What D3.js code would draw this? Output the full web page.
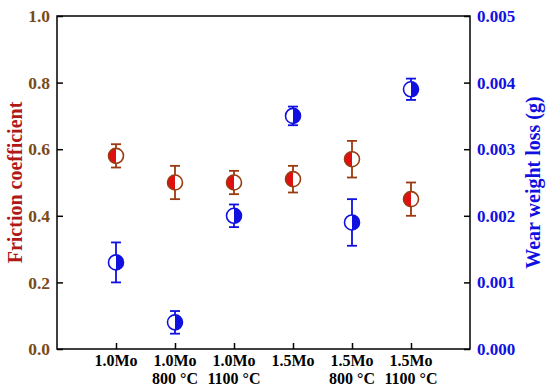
<!DOCTYPE html>
<html>
<head>
<meta charset="utf-8">
<script src="https://cdn.jsdelivr.net/npm/d3@7"></script>
<style>
  body { margin: 0; background: #fff; }
  text { font-family: "Liberation Serif", "Times New Roman", serif; font-weight: bold; }
</style>
</head>
<body>
<div id="chart"></div>
<script>
// sample names, two lines each
const samples = [["1.0Mo", ""], ["1.0Mo", "800 °C"], ["1.0Mo", "1100 °C"],
                 ["1.5Mo", ""], ["1.5Mo", "800 °C"], ["1.5Mo", "1100 °C"]];
const friction = [0.58, 0.50, 0.50, 0.51, 0.57, 0.45];
const frictionErr = [0.035, 0.05, 0.035, 0.04, 0.055, 0.05];
const wear = [0.0013, 0.0004, 0.0020, 0.0035, 0.0019, 0.0039];
const wearErr = [0.0003, 0.00017, 0.00017, 0.00014, 0.00035, 0.00016];
const leftTicks = [0.0, 0.2, 0.4, 0.6, 0.8, 1.0];
const rightTicks = [0, 0.001, 0.002, 0.003, 0.004, 0.005];

const width = 550, height = 391;
const margin = {top: 16, right: 80, bottom: 42, left: 57};

const svg = d3.select("#chart").append("svg")
    .attr("width", width)
    .attr("height", height);

const x = d3.scaleLinear().domain([0, samples.length + 1])
    .range([margin.left, width - margin.right]);
const yL = d3.scaleLinear().domain([0, 1]).range([height - margin.bottom, margin.top]);
const yR = d3.scaleLinear().domain([0, 0.005]).range([height - margin.bottom, margin.top]);

const red = "#e01010", brown = "#9a3a10", tickBrown = "#7a4a18", blue = "#1010e0";
const r = 7.5;

// frame
svg.append("rect")
    .attr("x", margin.left).attr("y", margin.top)
    .attr("width", width - margin.right - margin.left)
    .attr("height", height - margin.bottom - margin.top)
    .attr("fill", "none").attr("stroke", "#000").attr("stroke-width", 1.5);

// left axis (ticks inward)
const gl = svg.append("g").attr("transform", `translate(${margin.left},0)`)
    .call(d3.axisRight(yL).tickValues(leftTicks).tickSize(6).tickFormat(d3.format(".1f")));
gl.select(".domain").remove();
gl.selectAll("line").attr("stroke", "#000").attr("stroke-width", 1.5);
gl.selectAll("text").attr("x", -7).attr("text-anchor", "end")
    .attr("fill", tickBrown).attr("font-size", 17.5);

// right axis
const gr = svg.append("g").attr("transform", `translate(${width - margin.right},0)`)
    .call(d3.axisLeft(yR).tickValues(rightTicks).tickSize(6).tickFormat(d3.format(".3f")));
gr.select(".domain").remove();
gr.selectAll("line").attr("stroke", "#000").attr("stroke-width", 1.5);
gr.selectAll("text").attr("x", 7).attr("text-anchor", "start")
    .attr("fill", blue).attr("font-size", 17);

// bottom axis
const gb = svg.append("g").attr("transform", `translate(0,${height - margin.bottom})`)
    .call(d3.axisTop(x).tickValues(d3.range(1, samples.length + 1)).tickSize(6).tickFormat(""));
gb.select(".domain").remove();
gb.selectAll("line").attr("stroke", "#000").attr("stroke-width", 1.5);

const lbl = svg.append("g").selectAll("text").data(samples).join("text")
    .attr("x", (d, i) => x(i + 1))
    .attr("y", height - margin.bottom + 17)
    .attr("text-anchor", "middle")
    .attr("font-size", 16)
    .attr("fill", "#000");
lbl.append("tspan").attr("x", (d, i) => x(i + 1)).text(d => d[0]);
lbl.append("tspan").attr("x", (d, i) => x(i + 1)).attr("dy", 18).text(d => d[1]);

// axis titles
svg.append("text")
    .attr("transform", `translate(22,${(yL(0) + yL(1)) / 2}) rotate(-90)`)
    .attr("text-anchor", "middle").attr("font-size", 20).attr("fill", "#b01818")
    .text("Friction coefficient");
svg.append("text")
    .attr("transform", `translate(540,${(yL(0) + yL(1)) / 2}) rotate(-90)`)
    .attr("text-anchor", "middle").attr("font-size", 20).attr("fill", blue)
    .text("Wear weight loss (g)");

// error bars + half-filled markers
function drawSeries(vals, errs, y, lineColor, fillColor, fillLeft) {
  const g = svg.append("g");
  const cap = 5;
  vals.forEach((v, i) => {
    const cx = x(i + 1), cy = y(v);
    const top = y(v + errs[i]), bot = y(v - errs[i]);
    g.append("line").attr("x1", cx).attr("x2", cx).attr("y1", top).attr("y2", bot)
        .attr("stroke", lineColor).attr("stroke-width", 1.8);
    [top, bot].forEach(yy => g.append("line")
        .attr("x1", cx - cap).attr("x2", cx + cap).attr("y1", yy).attr("y2", yy)
        .attr("stroke", lineColor).attr("stroke-width", 1.8));
    g.append("circle").attr("cx", cx).attr("cy", cy).attr("r", r).attr("fill", "#fff");
    const arc = d3.arc().innerRadius(0).outerRadius(r)
        .startAngle(fillLeft ? Math.PI : 0).endAngle(fillLeft ? 2 * Math.PI : Math.PI);
    g.append("path").attr("d", arc()).attr("transform", `translate(${cx},${cy})`)
        .attr("fill", fillColor);
    g.append("circle").attr("cx", cx).attr("cy", cy).attr("r", r)
        .attr("fill", "none").attr("stroke", lineColor).attr("stroke-width", 1.6);
  });
}
drawSeries(friction, frictionErr, yL, brown, red, true);
drawSeries(wear, wearErr, yR, blue, blue, false);
</script>
</body>
</html>
